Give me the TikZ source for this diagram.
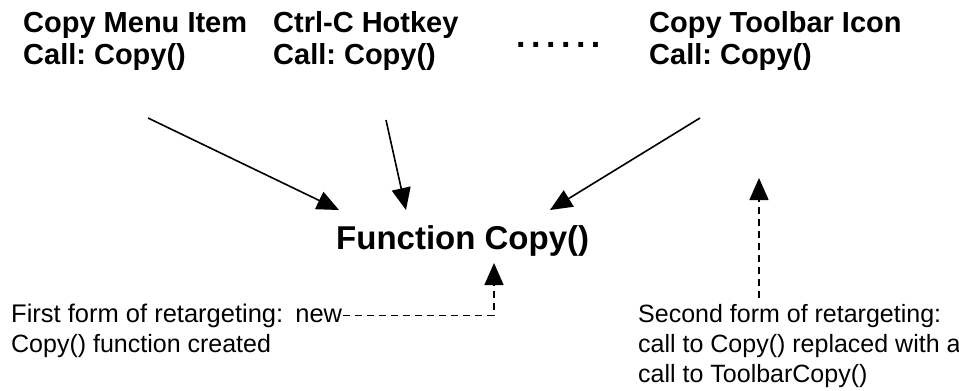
\documentclass[tikz,border=0pt]{standalone}
\usepackage{fontspec}
\setmainfont{Liberation Sans}
\usetikzlibrary{arrows.meta,calc}
\frenchspacing
\begin{document}
\begin{tikzpicture}[x=1pt,y=-1pt,
  head/.style={font=\fontsize{29}{34}\selectfont\bfseries, anchor=base west, inner sep=0pt},
  note/.style={font=\fontsize{25}{30}\selectfont, anchor=base west, inner sep=0pt},
  conn/.style={line width=1.6pt, -{Triangle[length=22pt,width=19pt]}},
  dconn/.style={line width=1.6pt, dash pattern=on 7pt off 5pt, -{Triangle[length=22pt,width=19pt]}}]
\useasboundingbox (0,0) rectangle (959,391);
% headings
\node[head] (m1) at (23,32) {Copy Menu Item};
\node[head] (m2) at (23,64) {Call: Copy()};
\node[head] (h1) at (273,32) {Ctrl-C Hotkey};
\node[head] (h2) at (273,64) {Call: Copy()};
\node[head] (t1) at (649,32) {Copy Toolbar Icon};
\node[head] (t2) at (649,64) {Call: Copy()};
\node[font=\fontsize{34}{40}\selectfont\bfseries, anchor=base west, inner sep=0pt] (dots) at (516,47) {.\kern5.5pt.\kern5.5pt.\kern5.5pt.\kern5.5pt.\kern5.5pt.};
% function
\node[font=\fontsize{33}{38}\selectfont\bfseries, anchor=base west, inner sep=0pt] (func) at (336,249) {Function Copy()};
% notes
\node[note, font=\fontsize{25.5}{30}\selectfont] (n1) at (11,322) {First form of retargeting:\hspace{5pt} new};
\node[note] (n1b) at (11,352) {Copy() function created};
\node[note] (n2) at (638,322) {Second form of retargeting:};
\node[note] (n2b) at (638,352) {call to Copy() replaced with a};
\node[note] (n2c) at (638,382) {call to ToolbarCopy()};
% connector end points
\coordinate (a1s) at (148,118);
\coordinate (a1e) at (339,210);
\coordinate (a2s) at (386,120);
\coordinate (a2e) at (406,210);
\coordinate (a3s) at (700,118);
\coordinate (a3e) at (550,210);
\coordinate (d1e) at (494,263);
\coordinate (d2s) at (759,298);
\coordinate (d2e) at (759,178);
\draw[conn] (a1s) -- (a1e);
\draw[conn] (a2s) -- (a2e);
\draw[conn] (a3s) -- (a3e);
\draw[dconn] ([xshift=1pt]n1.east) -| (d1e);
\draw[dconn] (d2s) -- (d2e);
\end{tikzpicture}
\end{document}
